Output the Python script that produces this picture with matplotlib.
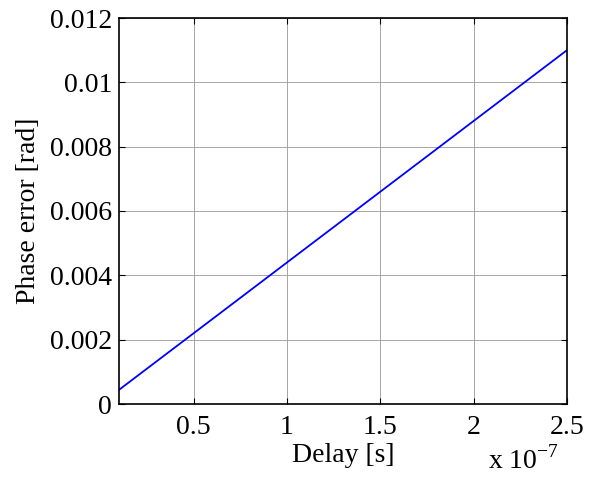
import matplotlib.pyplot as plt

# delay [s] vs phase error [rad]
delay = [0.1e-7, 0.5e-7, 1.0e-7, 1.5e-7, 2.0e-7, 2.5e-7]
phase_err = [0.00044, 0.0022, 0.0044, 0.0066, 0.0088, 0.011]

plt.rcParams['font.family'] = ['Liberation Serif', 'DejaVu Serif']
plt.rcParams['mathtext.fontset'] = 'custom'
plt.rcParams['mathtext.rm'] = 'Liberation Serif'

fig = plt.figure(figsize=(5.91, 4.78), dpi=100)
ax = fig.add_axes([119/591, 1 - 404/478, (567-119)/591, (404-18)/478])

ax.plot(delay, phase_err, color='blue', lw=1.3)
ax.set_xlim(0.1e-7, 2.5e-7)
ax.set_ylim(0, 0.012)

xt = [0.5e-7, 1e-7, 1.5e-7, 2e-7, 2.5e-7]
ax.set_xticks(xt)
ax.set_xticklabels(['0.5', '1', '1.5', '2', '2.5'])
yt = [0, 0.002, 0.004, 0.006, 0.008, 0.01, 0.012]
ax.set_yticks(yt)
ax.set_yticklabels(['0', '0.002', '0.004', '0.006', '0.008', '0.01', '0.012'])

ax.grid(True, color='#999999', lw=0.6)
ax.tick_params(direction='in', top=True, right=True, labelsize=20, length=4, width=0.8)
ax.tick_params(axis='x', pad=8)
ax.tick_params(axis='y', pad=5)
for s in ax.spines.values():
    s.set_linewidth(1.2)

ax.set_xlabel('Delay [s]', fontsize=20, labelpad=2)
ax.set_ylabel('Phase error [rad]', fontsize=20, labelpad=6)
fig.text(523/591, 1 - 460/478, r'x 10$^{-7}$', fontsize=20, ha='center', va='center')

fig.savefig('out.png', dpi=100, facecolor='white')
